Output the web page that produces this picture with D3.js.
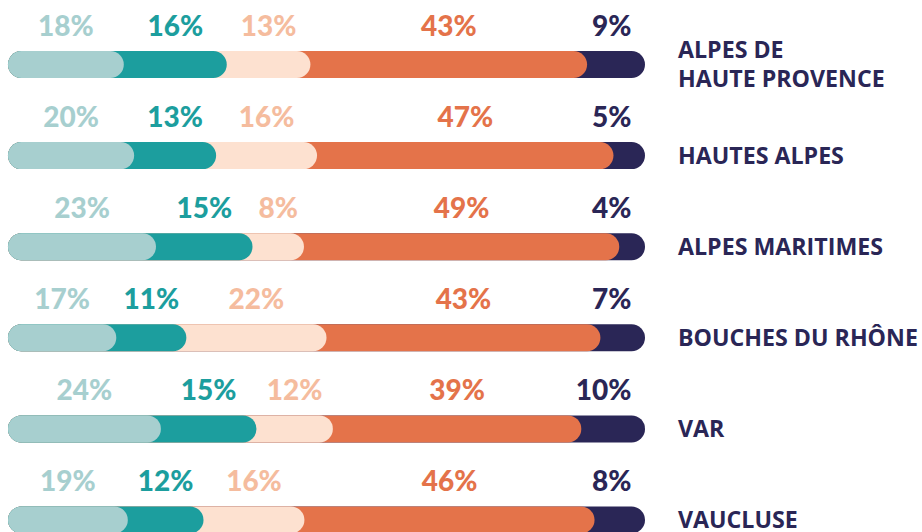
<!DOCTYPE html>
<html>
<head>
<meta charset="utf-8">
<script src="https://cdn.jsdelivr.net/npm/d3@7"></script>
<style>
  html, body { margin: 0; padding: 0; background: #ffffff; }
  svg { display: block; }
</style>
</head>
<body>
<svg id="chart" width="922" height="532"></svg>
<script>
// Departments (line breaks mark the wrapped labels)
const categories = [
  "ALPES DE\nHAUTE PROVENCE",
  "HAUTES ALPES",
  "ALPES MARITIMES",
  "BOUCHES DU RHÔNE",
  "VAR",
  "VAUCLUSE"
];

// Shares per department, in stacking order from left to right
const share1 = [18, 20, 23, 17, 24, 19];
const share2 = [16, 13, 15, 11, 15, 12];
const share3 = [13, 16, 8, 22, 12, 16];
const share4 = [43, 47, 49, 43, 39, 46];
const share5 = [9, 5, 4, 7, 10, 8];

const seriesValues = [share1, share2, share3, share4, share5];
const barColors = ["#a7cfcf", "#1c9e9e", "#fde1d0", "#e4734a", "#2a2656"];
const labelColors = ["#a7cfcf", "#1c9e9e", "#f5bc9e", "#e4734a", "#2a2656"];

const svg = d3.select("#chart");

const barLeft = 8, barRight = 645, barHeight = 27, radius = barHeight / 2;

const y = d3.scalePoint()
  .domain(categories)
  .range([64.5, 520]);

const rows = categories.map((cat, r) => {
  const vals = seriesValues.map(s => s[r]);
  const total = d3.sum(vals);
  const x = d3.scaleLinear().domain([0, total]).range([barLeft, barRight]);
  let acc = 0;
  const segs = vals.map((v, i) => {
    const s = { i, v, start: acc, end: acc + v };
    acc += v;
    return s;
  });
  return { cat, x, segs };
});

const row = svg.selectAll("g.row")
  .data(rows)
  .join("g")
  .attr("class", "row")
  .attr("transform", d => `translate(0,${y(d.cat)})`);

// Rounded segments: each runs from the bar start to its cumulative end,
// drawn last-to-first so earlier segments sit on top with rounded caps.
row.selectAll("rect.seg")
  .data(d => d.segs.map(s => ({ ...s, x: d.x })).reverse())
  .join("rect")
  .attr("class", "seg")
  .attr("x", d => d.x(0))
  .attr("y", -barHeight / 2)
  .attr("width", d => d.x(d.end) - d.x(0))
  .attr("height", barHeight)
  .attr("rx", radius)
  .attr("ry", radius)
  .attr("fill", d => barColors[d.i]);

// Percentage labels above each segment
row.selectAll("text.pct")
  .data(d => d.segs.map(s => ({ ...s, x: d.x })))
  .join("text")
  .attr("class", "pct")
  .attr("y", -28.8)
  .attr("text-anchor", "middle")
  .attr("font-family", "Lato, 'Open Sans', sans-serif")
  .attr("font-weight", 900)
  .attr("font-size", 28)
  .attr("fill", d => labelColors[d.i])
  .text(d => d.v + "%")
  .each(function (d) {
    const mid = (d.x(d.start) + d.x(d.end)) / 2;
    const half = this.getComputedTextLength() / 2;
    // keep the label inside the bar's rounded end
    const cx = Math.min(mid, barRight - radius - half);
    d3.select(this).attr("x", cx);
  });

// Department names to the right of the bars
const lineGap = 29;
row.append("text")
  .attr("class", "cat")
  .attr("x", 678)
  .attr("font-family", "'Open Sans', sans-serif")
  .attr("font-weight", 700)
  .attr("font-size", 23.2)
  .attr("fill", "#2a2656")
  .each(function (d) {
    const lines = d.cat.split("\n");
    const first = 8 - (lines.length - 1) * lineGap / 2;
    d3.select(this).selectAll("tspan")
      .data(lines)
      .join("tspan")
      .attr("x", 678)
      .attr("y", (l, k) => first + k * lineGap)
      .text(l => l);
  });
</script>
</body>
</html>
